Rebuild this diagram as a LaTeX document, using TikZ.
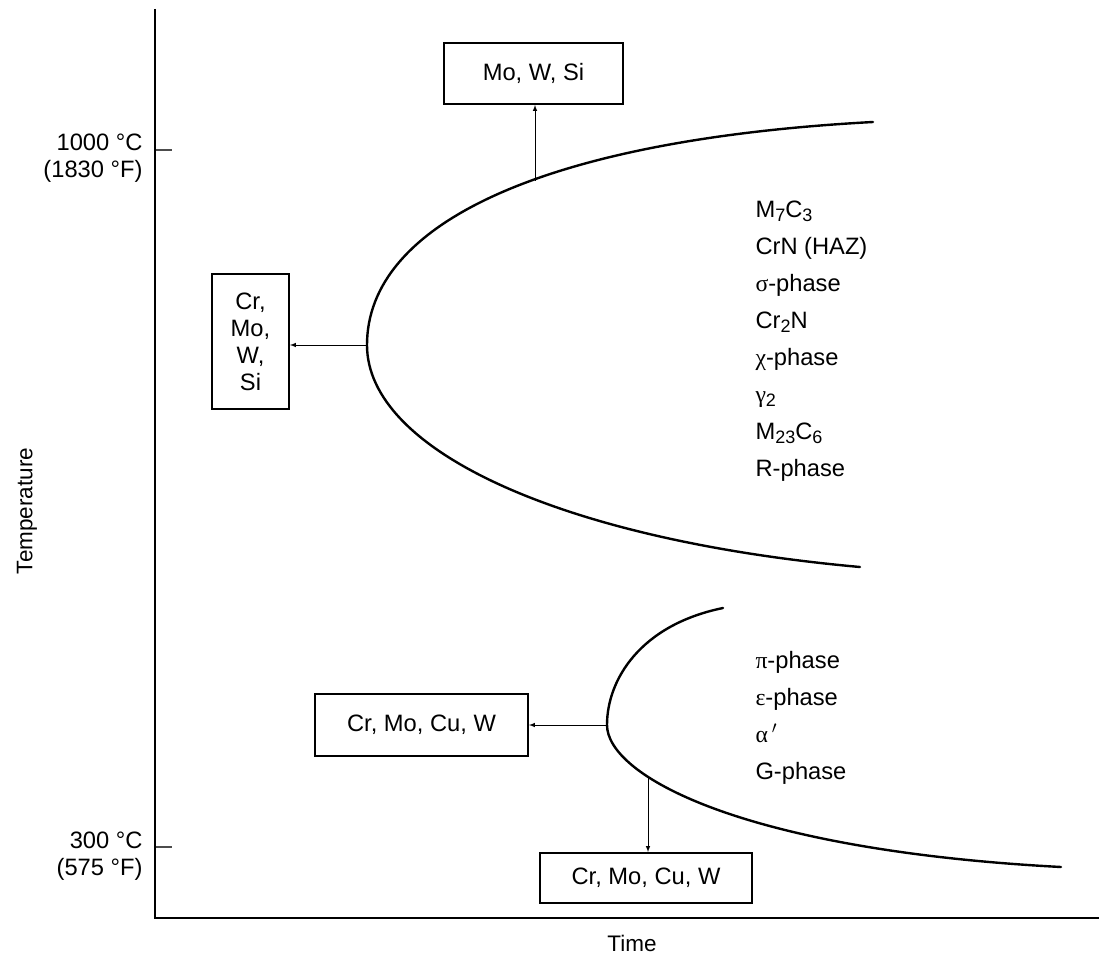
\documentclass[tikz,border=0pt]{standalone}
\usepackage{fontspec}
\setmainfont{Liberation Sans}
\newfontfamily\grk{Liberation Serif}
\newcommand{\sbs}[1]{\raisebox{-.35ex}{\fontsize{18}{18}\selectfont #1}}
\begin{document}
\begin{tikzpicture}[x=1pt,y=-1pt,line width=1pt,
                    b/.style={draw,line width=2pt,inner sep=0pt,align=center,font=\fontsize{23.7}{27}\selectfont},
                    l/.style={inner sep=0pt,font=\fontsize{23.7}{27}\selectfont},
                    p/.style={inner sep=0pt,align=left,anchor=west,font=\fontsize{23.7}{37}\selectfont},
                    c/.style={line width=2.4pt,line cap=round}]
                     \useasboundingbox (0,0) rectangle (1099,957);
                     \draw[line width=2.5pt](155,9)--(155,918)--(1099,918);
                     \draw[line width=1.3pt,gray!60!black](156,150)--(172,150) (156,847)--(172,847);
                     \node[l,align=right,anchor=east] (t1000) at (143,158) {1000 °C\\(1830 °F)};
                     \node[l,align=right,anchor=east] (t300)  at (143,856) {300 °C\\(575 °F)};
                     \node[l,rotate=90,font=\fontsize{22.5}{27}\selectfont] (templbl) at (27,511) {Temperature};
                     \node[l,font=\fontsize{22.5}{27}\selectfont] (timelbl) at (632,943) {Time};
                     % C-curves
                     \draw[c](873,122) .. controls (540,140) and (367,225) .. (367,345) .. controls (367,450) and (560,540) .. (860,567);
                     \draw[c](723,608) .. controls (640,625) and (607,680) .. (607,725) .. controls (607,775) and (740,850) .. (1061,867);
                     \coordinate (uptop)  at (535,181);
                     \coordinate (upnose) at (367,345);
                     \coordinate (lonose) at (607,725);
                     \coordinate (lobot)  at (648,778);
                     % boxes
                     \node[b,minimum width=179,minimum height=61]  (mws)   at (533.5,73.5) {Mo, W, Si};
                     \node[b,minimum width=77,minimum height=135]  (cmws)  at (250.5,341.5) {Cr,\\Mo,\\W,\\Si};
                     \node[b,minimum width=213,minimum height=62]  (cmcw)  at (421.5,725) {Cr, Mo, Cu, W};
                     \node[b,minimum width=212,minimum height=50]  (cmcwb) at (646,878) {Cr, Mo, Cu, W};
                     \draw[-latex](uptop)--(uptop |- mws.south);
                     \draw[-latex](upnose)--(upnose -| cmws.east);
                     \draw[-latex](lonose)--(lonose -| cmcw.east);
                     \draw[-latex](lobot)--(lobot |- cmcwb.north);
                     % phases
                     \node[p] (hiphases) at (755,341) {M\sbs{7}C\sbs{3}\\CrN (HAZ)\\{\grk σ}-phase\\Cr\sbs{2}N\\{\grk χ}-phase\\{\grk γ}\sbs{2}\\M\sbs{23}C\sbs{6}\\R-phase};
                     \node[p] (lophases) at (755,718) {{\grk π}-phase\\{\grk ε}-phase\\{\grk α}\,$^{\prime}$\\G-phase};
                 \end{tikzpicture}
\end{document}
